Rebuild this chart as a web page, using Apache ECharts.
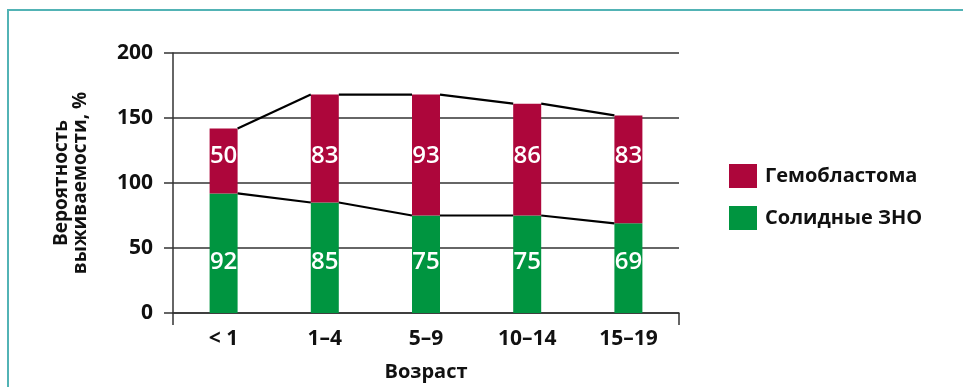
<!DOCTYPE html>
<html>
<head>
  <meta charset="utf-8">
  <script src="https://cdn.jsdelivr.net/npm/echarts@6/dist/echarts.min.js"></script>
  <style>
    body { margin: 0; background-color: white }
  </style>
  <title>Вероятность выживаемости</title>
  <script type="text/javascript">

    // values
    const ages = ['< 1', '1–4', '5–9', '10–14', '15–19'];
    const hemo = [50, 83, 93, 86, 83];
    const solid = [92, 85, 75, 75, 69];
    const yTicks = [0, 50, 100, 150, 200];
    const names = ['Гемобластома', 'Солидные ЗНО'];

    const FONT = '"Open Sans", "DejaVu Sans", sans-serif';
    const RED = '#ad063b';
    const GREEN = '#009540';
    const BAR_W = 28;

    function init() {
      const chart = echarts.init(document.getElementById('main'));
      chart.setOption(buildOption());
    }

    // series lines between neighbouring bars (right top corner -> left top corner)
    function connector(tops) {
      return tops.slice(0, -1).map((v, i) => [i, v, tops[i + 1]]);
    }

    function lineSeries(tops) {
      return {
        type: 'custom',
        silent: true,
        z: 5,
        data: connector(tops),
        encode: { x: 0, y: [1, 2] },
        renderItem: function (params, api) {
          const i = api.value(0);
          const a = api.coord([i, api.value(1)]);
          const b = api.coord([i + 1, api.value(2)]);
          return {
            type: 'line',
            shape: { x1: a[0] + BAR_W / 2, y1: a[1], x2: b[0] - BAR_W / 2, y2: b[1] },
            style: { stroke: '#000', lineWidth: 2.2 }
          };
        }
      };
    }

    // value labels sit at one fixed height per segment, like in the original
    function labelSeries(values, level) {
      return {
        type: 'custom',
        silent: true,
        z: 6,
        data: values.map((v, i) => [i, v]),
        renderItem: function (params, api) {
          const p = api.coord([api.value(0), level]);
          return {
            type: 'text',
            x: p[0],
            y: p[1],
            style: {
              text: String(api.value(1)),
              fill: '#fff',
              fontSize: 24,
              fontWeight: 600,
              fontFamily: FONT,
              align: 'center',
              verticalAlign: 'middle'
            }
          };
        }
      };
    }

    function buildOption() {
      const totals = hemo.map((v, i) => v + solid[i]);
      const axisColor = '#333';
      return {
        animation: false,
        textStyle: { fontFamily: FONT },
        graphic: [{
          type: 'polyline',
          shape: { points: [[8, 400], [8, 10], [970, 10]] },
          style: { stroke: '#52b3b5', lineWidth: 2, fill: null }
        }],
        grid: { left: 173, top: 53, width: 506, bottom: 73 },
        legend: {
          data: names,
          orient: 'vertical',
          left: 729,
          top: 164,
          padding: 0,
          itemWidth: 28,
          itemHeight: 24,
          itemGap: 18,
          icon: 'rect',
          textStyle: { fontSize: 20, fontWeight: 'bold', color: '#111', fontFamily: FONT, padding: [0, 0, 0, 3] }
        },
        xAxis: {
          type: 'category',
          data: ages,
          name: 'Возраст',
          nameLocation: 'middle',
          nameGap: 49,
          nameTextStyle: { fontSize: 20, fontWeight: 'bold', color: '#111' },
          axisLine: { lineStyle: { color: axisColor, width: 1.5 } },
          axisTick: { show: true, length: 12, interval: (i) => i === 0, lineStyle: { color: axisColor, width: 1.5 } },
          axisLabel: { fontSize: 21, fontWeight: 'bold', color: '#111', margin: 16 }
        },
        yAxis: {
          type: 'value',
          min: yTicks[0],
          max: yTicks[yTicks.length - 1],
          interval: yTicks[1] - yTicks[0],
          name: 'Вероятность\nвыживаемости, %',
          nameLocation: 'middle',
          nameGap: 83,
          nameTextStyle: { fontSize: 19, fontWeight: 'bold', color: '#111', lineHeight: 19 },
          axisLine: { show: true, lineStyle: { color: axisColor, width: 1.5 } },
          axisTick: { show: true, length: 9, lineStyle: { color: axisColor, width: 1.5 } },
          axisLabel: { fontSize: 21, fontWeight: 'bold', color: '#111', margin: 20 },
          splitLine: { lineStyle: { color: axisColor, width: 1.5 } }
        },
        series: [
          {
            name: names[1], type: 'bar', stack: 'total', barWidth: BAR_W,
            itemStyle: { color: GREEN }, data: solid
          },
          {
            name: names[0], type: 'bar', stack: 'total', barWidth: BAR_W,
            itemStyle: { color: RED }, data: hemo
          },
          lineSeries(solid),
          lineSeries(totals),
          labelSeries(solid, 39),
          labelSeries(hemo, 121)
        ]
      };
    }
  </script>
</head>
<body onload="init()">
  <div id="main" style="width: 963px; height: 387px;"></div>
</body>
</html>
